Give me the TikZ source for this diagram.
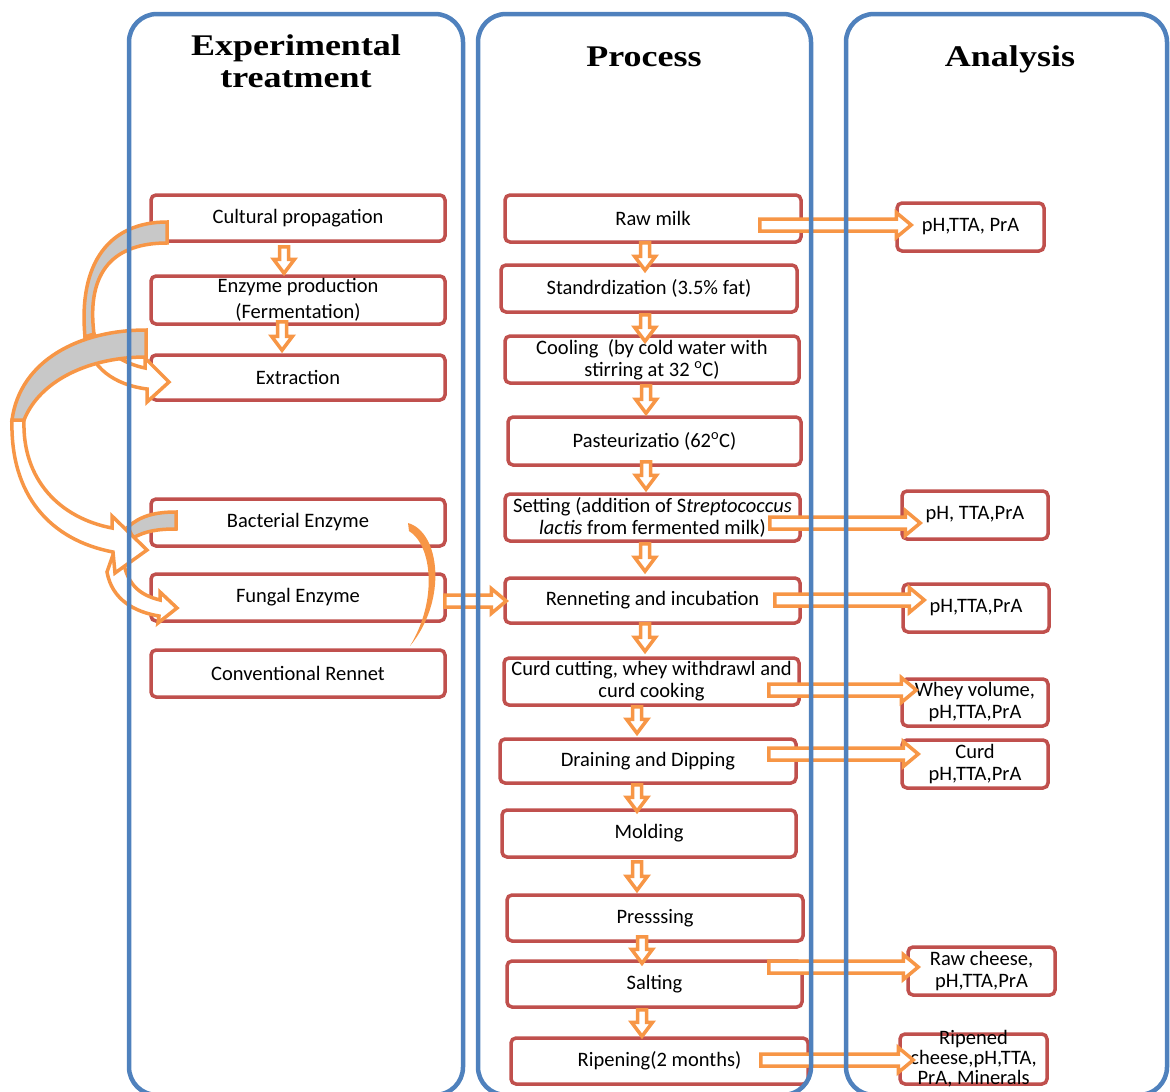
\documentclass[tikz,border=0pt]{standalone}
\usepackage{fontspec}
\usepackage{graphicx}
\setmainfont{Carlito}
\newfontfamily\headfont{Liberation Serif}
\usetikzlibrary{calc}
\definecolor{colblue}{RGB}{79,129,189}
\definecolor{boxred}{RGB}{192,80,77}
\definecolor{arrorange}{RGB}{247,150,70}
\definecolor{backgray}{RGB}{200,200,200}
\newcommand{\widehead}[1]{\scalebox{1.2}[1]{#1}}
\begin{document}
\begin{tikzpicture}[x=1pt, y=-1pt,
    column/.style={draw=colblue, line width=4.5pt, rounded corners=28pt},
    head/.style={font=\headfont\bfseries\fontsize{30}{32}\selectfont, align=center},
    box/.style={draw=boxred, line width=3.5pt, rounded corners=5pt, fill=white, align=center,
      inner sep=2pt, font=\fontsize{20.5}{22}\selectfont},
    hollow/.style n args={3}{draw=arrorange, fill=white, line width=3.5pt,
      to path={let \p1=(\tikztostart), \p2=(\tikztotarget), \n1={atan2(\y2-\y1,\x2-\x1)} in
        ($(\p1)+(\n1+90:#1)$) -- ($(\p2)+(\n1+180:#3)+(\n1+90:#1)$)
        -- ($(\p2)+(\n1+180:#3)+(\n1+90:#2)$) -- (\p2)
        -- ($(\p2)+(\n1+180:#3)+(\n1-90:#2)$) -- ($(\p2)+(\n1+180:#3)+(\n1-90:#1)$)
        -- ($(\p1)+(\n1-90:#1)$) -- cycle}},
    flow/.style={hollow={4.5pt}{10.5pt}{14pt}},
    result/.style={hollow={6pt}{12.5pt}{15pt}},
    front/.style={draw=arrorange, fill=white, line width=3.5pt},
    back/.style={draw=arrorange, fill=backgray, line width=3.5pt}]
  \useasboundingbox (0,0) rectangle (1170,1092);

  \node[head, anchor=base] (ttreat) at (296,87) {\widehead{Experimental}\\\widehead{treatment}};
  \node[head, anchor=base] (tproc) at (644,66) {\widehead{Process}};
  \node[head, anchor=base] (tanal) at (1010,66) {\widehead{Analysis}};

  \node[box, minimum width=294pt, minimum height=46pt] (cult) at (298,218) {Cultural propagation};
  \node[box, minimum width=294pt, minimum height=48pt] (enz) at (298,300) {Enzyme production\\[4pt](Fermentation)};
  \node[box, minimum width=294pt, minimum height=45pt] (extr) at (298,377.5) {Extraction};
  \node[box, minimum width=294pt, minimum height=47pt] (bact) at (298,522.5) {Bacterial Enzyme};
  \node[box, minimum width=294pt, minimum height=47pt] (fung) at (298,597.5) {Fungal Enzyme};
  \node[box, minimum width=294pt, minimum height=47pt] (conv) at (298,673.5) {Conventional Rennet};

  \node[box, minimum width=296pt, minimum height=47pt] (raw) at (653,218.5) {Raw milk};
  \node[box, minimum width=296pt, minimum height=47pt] (stand) at (649,288.5) {Standrdization (3.5\% fat)};
  \node[box, minimum width=294pt, minimum height=47pt] (cool) at (652,359.5) {Cooling\ \ (by cold water with\\stirring at 32 \textsuperscript{o}C)};
  \node[box, minimum width=293pt, minimum height=48pt] (past) at (654.5,441) {Pasteurizatio (62\textsuperscript{o}C)};
  \node[box, minimum width=295pt, minimum height=47pt] (sett) at (652.5,517.5) {Setting (addition of S\textit{treptococcus}\\\textit{lactis} from fermented milk)};
  \node[box, minimum width=295pt, minimum height=45pt] (renn) at (652.5,600.5) {Renneting and incubation};
  \node[box, minimum width=295pt, minimum height=47pt] (curd) at (651.5,681.5) {Curd cutting, whey withdrawl and\\curd cooking};
  \node[box, minimum width=296pt, minimum height=44pt] (drain) at (648,761) {Draining and Dipping};
  \node[box, minimum width=294pt, minimum height=47pt] (mold) at (649,833.5) {Molding};
  \node[box, minimum width=296pt, minimum height=46pt] (press) at (655,918) {Presssing};
  \node[box, minimum width=295pt, minimum height=46pt] (salt) at (654.5,984) {Salting};
  \node[box, minimum width=297pt, minimum height=46pt] (ripe) at (659.5,1061) {Ripening(2 months)};

  \node[box, minimum width=147pt, minimum height=48pt] (a1) at (970.5,227) {pH,TTA, PrA};
  \node[box, minimum width=146pt, minimum height=48pt] (a2) at (975,515) {pH, TTA,PrA};
  \node[box, minimum width=146pt, minimum height=48pt] (a3) at (976,608) {pH,TTA,PrA};
  \node[box, minimum width=146pt, minimum height=47pt] (a4) at (975,702.5) {Whey volume,\\pH,TTA,PrA};
  \node[box, minimum width=146pt, minimum height=48pt] (a5) at (975,764) {Curd\\pH,TTA,PrA};
  \node[box, minimum width=147pt, minimum height=48pt] (a6) at (981.5,971) {Raw cheese,\\pH,TTA,PrA};
  \node[box, minimum width=147pt, minimum height=50pt,
    label={[name=a7text, align=center, inner sep=0pt, font=\fontsize{20.5}{20}\selectfont]center:{Ripened\\cheese,pH,TTA,\\PrA, Minerals}}] (a7) at (973.5,1059) {};

  \draw[back] (176,512) .. controls (155,512) and (140,516) .. (128,527) -- (133,538)
    .. controls (145,531) and (158,529) .. (176,529) -- cycle;
  \draw[front] (114,552) -- (122,552) .. controls (125,585) and (140,595) .. (160,600)
    -- (160,592) -- (177,608) -- (158,623) -- (159,616)
    .. controls (135,612) and (112,600) .. (107,572) -- cycle;

  \draw[front] (94,334) .. controls (105,352) and (125,364) .. (145,368)
    -- (145,358) -- (169,382) -- (147,402) -- (147,389)
    .. controls (115,385) and (90,368) .. (85,337) -- cycle;
  \draw[back] (167,222) .. controls (110,222) and (78,262) .. (85,337) -- (94,334)
    .. controls (86,270) and (115,243) .. (167,243) -- cycle;

  \draw[front] (24,420) .. controls (22,480) and (60,518) .. (112,528)
    -- (112,516) -- (147,550) -- (115,573) -- (113,552)
    .. controls (50,540) and (10,495) .. (12,420) -- cycle;
  \draw[back] (146,330) .. controls (80,330) and (20,360) .. (12,420) -- (24,420)
    .. controls (40,380) and (90,357) .. (146,357) -- cycle;

  \fill[arrorange] (408,523) .. controls (440,532) and (448,600) .. (410,646)
    .. controls (438,600) and (432,545) .. (409,531) -- cycle;

  \draw[flow] ($(cult.south)+(-14,4)$) to ($(enz.north)+(-14,-1)$);
  \draw[flow] ($(enz.south)+(-16,-4)$) to ($(extr.north)+(-16,-3)$);

  \draw[flow] ($(raw.south)+(-8,-1)$) to ($(stand.north)+(-4,7)$);
  \draw[flow] ($(stand.south)+(-4,1)$) to ($(cool.north)+(-7,7)$);
  \draw[flow] ($(cool.south)+(-6,1)$) to ($(past.north)+(-8.5,-2)$);
  \draw[flow] ($(past.south)+(-8.5,-5)$) to ($(sett.north)+(-6.5,-3)$);
  \draw[flow] ($(sett.south)+(-7.5,1)$) to ($(renn.north)+(-7.5,-5)$);
  \draw[flow] ($(renn.south)+(-7.5,-1)$) to ($(curd.north)+(-6.5,-5)$);
  \draw[flow] ($(curd.south)+(-14.5,0)$) to ($(drain.north)+(-11,-4)$);
  \draw[flow] ($(drain.south)+(-11,0)$) to ($(mold.north)+(-12,3)$);
  \draw[flow] ($(mold.south)+(-12,3)$) to ($(press.north)+(-18,-3)$);
  \draw[flow] ($(press.south)+(-13,-6)$) to ($(salt.north)+(-12.5,4)$);
  \draw[flow] ($(salt.south)+(-12.5,1)$) to ($(ripe.north)+(-17.5,0)$);

  \draw[result] ($(fung.east)+(-2,3.5)$) to ($(renn.west)+(3,0.5)$);
  \draw[result] ($(raw.east)+(-43,6.5)$) to ($(a1.west)+(16,-2)$);
  \draw[result] ($(sett.east)+(-32,5.5)$) to ($(a2.west)+(20,8)$);
  \draw[result] ($(renn.east)+(-27,-0.5)$) to ($(a3.west)+(23,-8)$);
  \draw[result] ($(curd.east)+(-32,8.5)$) to ($(a4.west)+(16,-12.5)$);
  \draw[result] ($(drain.east)+(-29,-7)$) to ($(a5.west)+(18,-10)$);
  \draw[result] ($(salt.east)+(-35,-17)$) to ($(a6.west)+(12,-4)$);
  \draw[result] ($(ripe.east)+(-49,-1)$) to ($(a7.west)+(15,1)$);

  \draw[column] (129,1095) rectangle (463,14);
  \draw[column] (478,1095) rectangle (811,14);
  \draw[column] (846,1095) rectangle (1167,14);
\end{tikzpicture}
\end{document}
